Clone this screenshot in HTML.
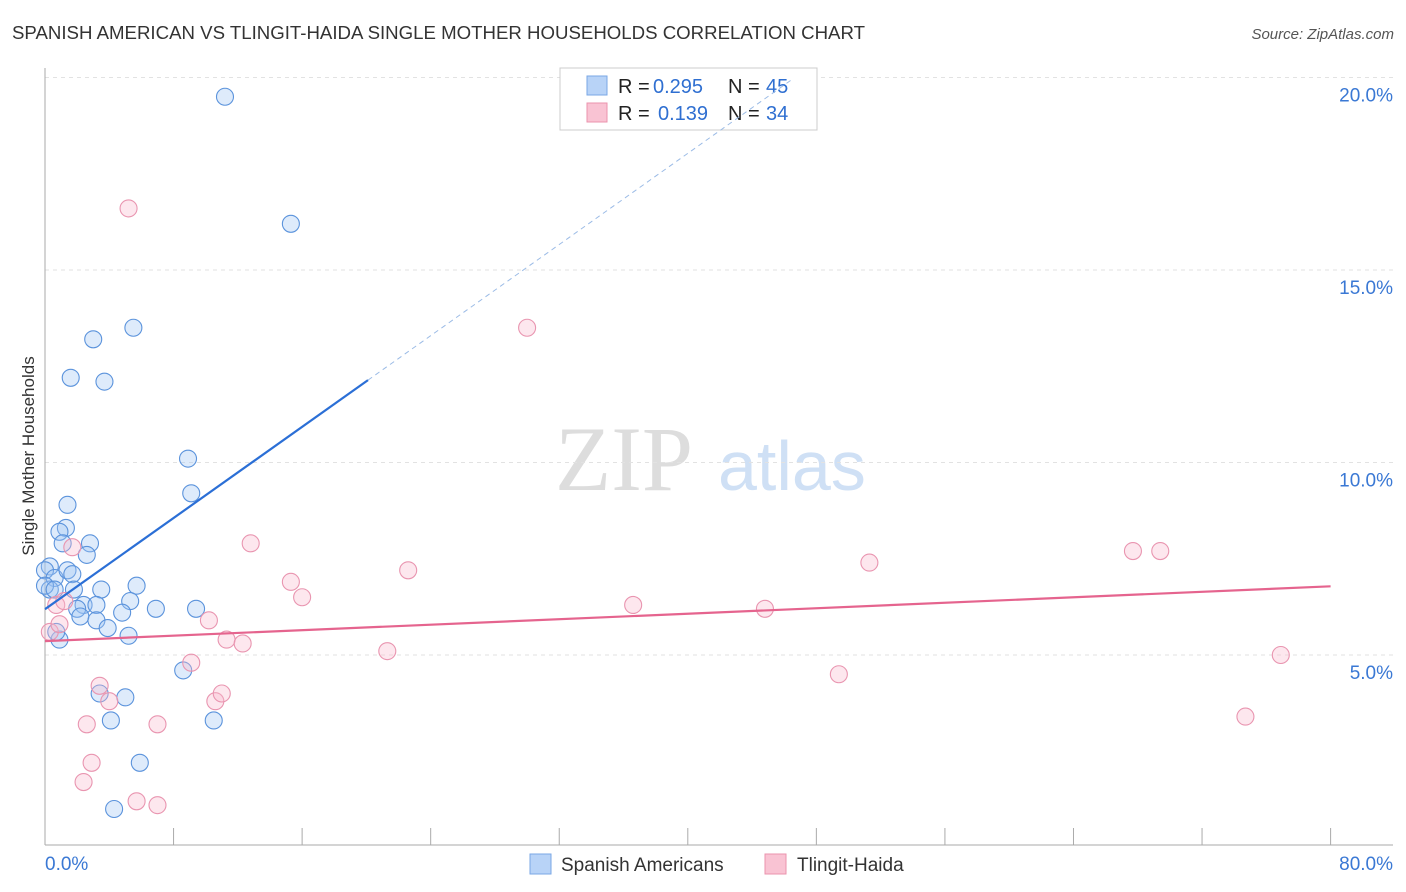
<!DOCTYPE html>
<html><head><meta charset="utf-8"><style>
body{margin:0;background:#fff;font-family:"Liberation Sans",sans-serif;}
svg{display:block}
</style></head><body>
<svg id="c" width="1406" height="892" xmlns="http://www.w3.org/2000/svg">
<text x="12" y="39" font-size="18" fill="#333" textLength="853" lengthAdjust="spacingAndGlyphs">SPANISH AMERICAN VS TLINGIT-HAIDA SINGLE MOTHER HOUSEHOLDS CORRELATION CHART</text>
<text x="1394" y="39" font-size="15" fill="#555" font-style="italic" text-anchor="end">Source: ZipAtlas.com</text>
<text x="34" y="456" font-size="17" fill="#333" text-anchor="middle" transform="rotate(-90 34 456)">Single Mother Households</text>
<g><text x="555" y="490" font-size="92" fill="#ddd" font-family="Liberation Serif,serif">ZIP</text><text x="718" y="490" font-size="70" fill="#cfe0f5">atlas</text></g>
<g id="grid"></g>
<g>
<rect x="560" y="68" width="257" height="62" fill="#fff" stroke="#ccc"/>
<rect x="587" y="76" width="20" height="19" fill="#b8d3f7" stroke="#7aa7e5"/>
<rect x="587" y="103" width="20" height="19" fill="#f9c3d3" stroke="#eb93ae"/>
<text x="618" y="93" font-size="20" fill="#222">R =</text><text x="653" y="93" font-size="20" fill="#2f6fd1">0.295</text>
<text x="728" y="93" font-size="20" fill="#222">N =</text><text x="766" y="93" font-size="20" fill="#2f6fd1">45</text>
<text x="618" y="120" font-size="20" fill="#222">R =</text><text x="658" y="120" font-size="20" fill="#2f6fd1">0.139</text>
<text x="728" y="120" font-size="20" fill="#222">N =</text><text x="766" y="120" font-size="20" fill="#2f6fd1">34</text>
</g>
<g id="pts"></g><g id="lines"></g>
<g>
<rect x="530" y="854" width="21" height="20" fill="#b8d3f7" stroke="#7aa7e5"/>
<text x="561" y="871" font-size="19" fill="#333">Spanish Americans</text>
<rect x="765" y="854" width="21" height="20" fill="#f9c3d3" stroke="#eb93ae"/>
<text x="797" y="871" font-size="19" fill="#333">Tlingit-Haida</text>
</g>
</svg>
<script>
const blueX=[11.2,15.3,5.5,3.0,1.6,3.7,8.9,9.1,1.4,1.3,0.9,1.1,2.8,2.6,0.3,0.0,0.6,1.4,1.7,0.3,1.8,3.5,5.7,5.3,2.4,3.2,2.0,2.2,3.2,4.8,6.9,9.4,3.9,5.2,0.9,0.7,8.6,3.4,5.0,4.1,10.5,5.9,4.3,0.0,0.6];
const blueY=[19.5,16.2,13.5,13.2,12.2,12.1,10.1,9.2,8.9,8.3,8.2,7.9,7.9,7.6,7.3,7.2,7.0,7.2,7.1,6.7,6.7,6.7,6.8,6.4,6.3,6.3,6.2,6.0,5.9,6.1,6.2,6.2,5.7,5.5,5.4,5.6,4.6,4.0,3.9,3.3,3.3,2.2,1.0,6.8,6.7];
const pinkX=[5.2,30.0,12.8,22.6,1.7,15.3,16.0,0.7,1.2,10.2,0.3,0.9,11.3,12.3,21.3,9.1,36.6,44.8,51.3,67.7,69.4,49.4,76.9,74.7,3.4,4.0,10.6,11.0,2.6,7.0,2.9,2.4,5.7,7.0];
const pinkY=[16.6,13.5,7.9,7.2,7.8,6.9,6.5,6.3,6.4,5.9,5.6,5.8,5.4,5.3,5.1,4.8,6.3,6.2,7.4,7.7,7.7,4.5,5.0,3.4,4.2,3.8,3.8,4.0,3.2,3.2,2.2,1.7,1.2,1.1];
const xTicks=[0,8,16,24,32,40,48,56,64,72,80];
const yTicks=[5,10,15,20];
const blueFit=[6.19,0.296], pinkFit=[5.36,0.0178];
const X=v=>45+v*16.07, Y=v=>847.5-v*38.5;
const NS='http://www.w3.org/2000/svg';
function mk(p,t,a){const e=document.createElementNS(NS,t);for(const k in a)e.setAttribute(k,a[k]);document.getElementById(p).appendChild(e);return e;}
yTicks.forEach(t=>{
 const l=mk('grid','line',{x1:45,x2:1393,y1:Y(t),y2:Y(t),stroke:'#e2e2e2','stroke-dasharray':'4,4'});
 
 
 const tx=mk('grid','text',{x:1393,y:Y(t)+24,'font-size':19,fill:'#3a78d4','text-anchor':'end'});tx.textContent=t.toFixed(1)+'%';
 
 
});
const ax=mk('grid','line',{x1:45,x2:45,y1:68,y2:845,stroke:'#aaa'});


const bx=mk('grid','line',{x1:45,x2:1393,y1:845,y2:845,stroke:'#aaa'});


xTicks.forEach(t=>{
 const l=mk('grid','line',{x1:X(t),x2:X(t),y1:828,y2:845,stroke:'#aaa'});
 
 
});
[[0,'start',45],[80,'end',1393]].forEach(([t,a,x])=>{
 const tx=mk('grid','text',{x:x,y:870,'font-size':19,fill:'#3a78d4','text-anchor':a});tx.textContent=t.toFixed(1)+'%';
 
 
});
blueX.forEach((v,i)=>{const c=mk('pts','circle',{cx:X(v),cy:Y(blueY[i]),r:8.5,fill:'rgba(160,198,244,0.35)',stroke:'#5b93dc','stroke-width':1.1});
 
 });
pinkX.forEach((v,i)=>{const c=mk('pts','circle',{cx:X(v),cy:Y(pinkY[i]),r:8.5,fill:'rgba(248,185,205,0.35)',stroke:'#e995b0','stroke-width':1.1});
 
 });
const b1=mk('lines','line',{x1:X(0),y1:Y(blueFit[0]),x2:X(20.1),y2:Y(blueFit[0]+blueFit[1]*20.1),stroke:'#2b6fd6','stroke-width':2.2});


const b2=mk('lines','line',{x1:X(20.1),y1:Y(blueFit[0]+blueFit[1]*20.1),x2:X(46.5),y2:Y(blueFit[0]+blueFit[1]*46.5),stroke:'#9bbbe6','stroke-width':1,'stroke-dasharray':'5,4'});


const p1=mk('lines','line',{x1:X(0),y1:Y(pinkFit[0]),x2:X(80),y2:Y(pinkFit[0]+pinkFit[1]*80),stroke:'#e5648e','stroke-width':2.2});


</script>
</body></html>
